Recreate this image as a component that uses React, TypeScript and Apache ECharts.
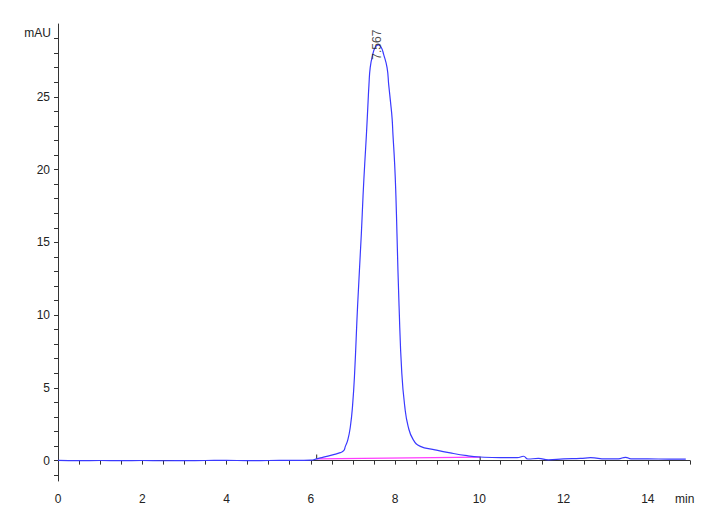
import React, { useRef, useEffect } from 'react';
import * as echarts from 'echarts';

// retention time (min) and absorbance (mAU)
const TIMES = [
  0, 0.5, 1, 1.5, 2, 2.5, 3, 3.5, 4, 4.5, 5, 5.5, 6, 6.14, 6.3, 6.54, 6.7,
  6.78, 6.82, 6.88, 6.94, 6.99, 7.04, 7.11, 7.2, 7.24, 7.28, 7.32, 7.36, 7.38,
  7.41, 7.47, 7.53, 7.6, 7.67, 7.73, 7.81, 7.85, 7.89, 7.93, 7.95, 7.99, 8.02,
  8.045, 8.095, 8.16, 8.23, 8.31, 8.43, 8.6, 8.92, 9.31, 9.71, 10.02, 10.5,
  10.9, 11.05, 11.15, 11.4, 11.64, 12.0, 12.4, 12.64, 13.0, 13.3, 13.47, 13.6,
  14.0, 14.5, 14.9,
];
const MAU = [
  0.02, 0.0, 0.01, 0.0, 0.01, -0.01, 0.0, 0.01, 0.02, 0.0, 0.01, 0.02, 0.04,
  0.12, 0.24, 0.41, 0.55, 0.68, 0.98, 1.44, 2.36, 3.73, 6.0, 10.6, 15.6, 18.2,
  20.4, 22.4, 24.7, 25.8, 27.0, 27.9, 28.4, 28.57, 28.4, 27.9, 27.0, 25.8,
  24.7, 23.5, 22.4, 20.4, 18.2, 15.6, 10.6, 6.0, 3.73, 2.36, 1.44, 0.98, 0.76,
  0.53, 0.34, 0.25, 0.2, 0.2, 0.3, 0.11, 0.15, 0.05, 0.12, 0.15, 0.2, 0.12,
  0.12, 0.23, 0.12, 0.12, 0.1, 0.1,
];

// integration baseline under the peak
const BASELINE = [[6.14, 0.12], [10.02, 0.24]];
// peak start / end markers
const EVENT_MARKS = [
  [[6.14, 0.12], [6.14, 0.42]],
  [[10.02, 0.02], [10.02, 0.27]],
];
const PEAK_RT = '7.567';
const PEAK_LABEL_Y = 27.55;

const X_TICKS = Array.from({ length: 31 }, (_, i) => i * 0.5);
const X_LABELS = [0, 2, 4, 6, 8, 10, 12, 14];
const Y_TICKS = Array.from({ length: 31 }, (_, i) => i - 1);
const Y_LABELS = [0, 5, 10, 15, 20, 25];

const AXIS_COLOR = '#333';
const TEXT_COLOR = '#222';
const FONT = 'Liberation Sans, Arial, sans-serif';

export default function App() {
  const ref = useRef<HTMLDivElement>(null);

  useEffect(() => {
    if (!ref.current) return;
    const chart = echarts.init(ref.current, undefined, { renderer: 'svg' });

    const option: echarts.EChartsOption = {
      animation: false,
      backgroundColor: '#fff',
      grid: { left: 58, right: 30, top: 24, bottom: 47 },
      xAxis: {
        type: 'value',
        min: 0,
        max: 15,
        axisLine: { lineStyle: { color: AXIS_COLOR, width: 1 } },
        axisTick: {
          length: 4,
          lineStyle: { color: AXIS_COLOR },
          customValues: X_TICKS,
        } as any,
        axisLabel: {
          color: TEXT_COLOR,
          fontSize: 12,
          fontFamily: FONT,
          margin: 12,
          customValues: X_LABELS,
        } as any,
        splitLine: { show: false },
      },
      yAxis: {
        type: 'value',
        min: -1.4,
        max: 30,
        axisLine: { show: true, lineStyle: { color: AXIS_COLOR, width: 1 } },
        axisTick: {
          show: true,
          length: 4,
          lineStyle: { color: AXIS_COLOR },
          customValues: Y_TICKS,
        } as any,
        axisLabel: {
          color: TEXT_COLOR,
          fontSize: 12,
          fontFamily: FONT,
          margin: 8,
          customValues: Y_LABELS,
        } as any,
        splitLine: { show: false },
      },
      graphic: [
        {
          type: 'text',
          right: 720 - 51,
          top: 27,
          style: { text: 'mAU', fill: TEXT_COLOR, font: `12px ${FONT}` },
        },
        {
          type: 'text',
          left: 675,
          top: 493,
          style: { text: 'min', fill: TEXT_COLOR, font: `12px ${FONT}` },
        },
      ],
      series: [
        {
          type: 'line',
          data: BASELINE,
          showSymbol: false,
          lineStyle: { color: '#ff3cff', width: 1.2 },
          z: 1,
          silent: true,
        },
        ...EVENT_MARKS.map(m => ({
          type: 'line' as const,
          data: m,
          showSymbol: false,
          lineStyle: { color: '#222', width: 1 },
          z: 1,
          silent: true,
        })),
        {
          type: 'line',
          data: TIMES.map((t, i) => [t, MAU[i]]),
          showSymbol: false,
          smooth: 0.5,
          lineStyle: { color: '#3a3aff', width: 1.2 },
          z: 2,
        },
        {
          type: 'scatter',
          data: [[Number(PEAK_RT), PEAK_LABEL_Y]],
          symbolSize: 0.1,
          itemStyle: { color: 'transparent' },
          label: {
            show: true,
            position: 'right',
            distance: 0,
            rotate: 90,
            formatter: PEAK_RT,
            color: TEXT_COLOR,
            fontSize: 12,
            fontFamily: FONT,
          },
          z: 3,
        },
      ],
    };

    chart.setOption(option);
    return () => chart.dispose();
  }, []);

  return (
    <div
      ref={ref}
      style={{ position: 'fixed', left: 0, top: 0, width: 720, height: 528 }}
    />
  );
}
